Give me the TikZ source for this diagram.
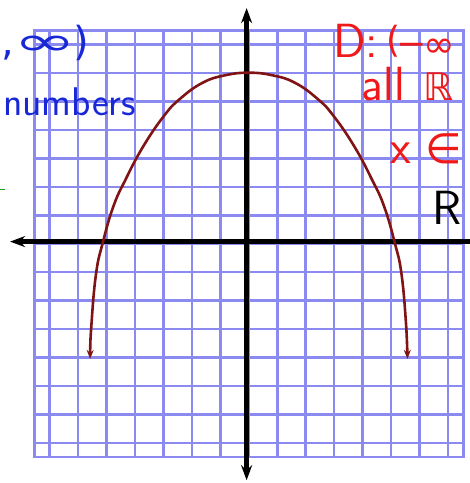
\documentclass[tikz,border=0pt]{standalone}
\usepackage{fontspec}
\usepackage{graphicx}
\usepackage{tikz}
\usetikzlibrary{arrows.meta}

\newfontfamily\symfont{DejaVu Sans}

\definecolor{gridblue}{RGB}{138,138,240}
\definecolor{curvered}{RGB}{128,20,20}
\definecolor{inkblue}{RGB}{25,40,215}
\definecolor{inkred}{RGB}{240,25,25}
\definecolor{inkgreen}{RGB}{30,160,30}

\begin{document}
\begin{tikzpicture}[
		x=21.45pt, y=21.33pt,
		gridline/.style={draw=gridblue, line width=2.6pt},
		axisline/.style={line width=4.5pt},
		curveline/.style={draw=curvered, line width=2.6pt,
			{Stealth[length=9pt, width=7pt]}-{Stealth[length=9pt, width=7pt]}},
		note/.style={inner sep=0pt, anchor=base west,
			font=\sffamily\fontsize{48}{48}\selectfont}
		]
		\clip (-11.6,-11.22) rectangle (10.31,11.43);
		
		\draw[gridline] (-10,-10) grid (10,10);
		\draw[gridline] (-10,-10) rectangle (10,10);
		
		\coordinate (xl) at (-11.13,0.1);
		\coordinate (xr) at (10.5,0.1);
		\coordinate (yt) at (-0.1,11.05);
		\coordinate (yb) at (-0.1,-11.09);
		\draw[axisline, {Stealth[length=15pt, width=11pt]}-] (xl)--(xr);
		\draw[axisline, {Stealth[length=15pt, width=11pt]}-{Stealth[length=15pt, width=11pt]}] (yt)--(yb);
		
		\draw[curveline] plot[smooth, tension=0.75] coordinates {
			(-7.4,-5.4) (-7.33,-3.7) (-7.12,-1.4) (-6.82,0) (-6.32,1.73)
			(-5.75,3.0) (-4.93,4.55) (-3.95,6.0) (-3.2,6.8) (-2.15,7.55)
			(-1.1,7.9) (0,8.02) (1.1,7.9) (2.15,7.55) (3.2,6.8) (3.95,6.0)
			(4.93,4.55) (5.75,3.0) (6.32,1.73) (6.82,0) (7.12,-1.4)
			(7.33,-3.7) (7.4,-5.4)};
		
		\node[note, text=inkblue, font=\symfont\fontsize{40}{40}\selectfont]
			(domset) at (-11.56,8.85) {,\scalebox{1.9}[1]{∞}\kern-4pt)};
		\node[note, text=inkblue, font=\sffamily\fontsize{40}{40}\selectfont]
			(numbers) at (-11.46,6.03) {numbers};
		\node[note, text=inkred] (domain) at (3.94,8.75)
			{D:\kern8pt\raisebox{5pt}{\symfont\fontsize{36}{36}\selectfont(}–{\symfont\fontsize{38}{38}\selectfont ∞}};
		\node[note, text=inkred] (allreal) at (5.26,6.72)
			{all\hspace{0.4em}{\symfont\fontsize{38}{38}\selectfont ℝ}};
		\node[note, text=inkred] (xin) at (6.58,3.78)
			{x\hspace{0.3em}{\symfont\fontsize{42}{42}\selectfont ∈}};
		\node[note] (rlabel) at (8.54,0.88) {R};
		
		\coordinate (gl) at (-11.6,2.55);
		\coordinate (gr) at (-11.37,2.55);
		\draw[inkgreen, line width=1.2pt] (gl)--(gr);
\end{tikzpicture}
\end{document}
